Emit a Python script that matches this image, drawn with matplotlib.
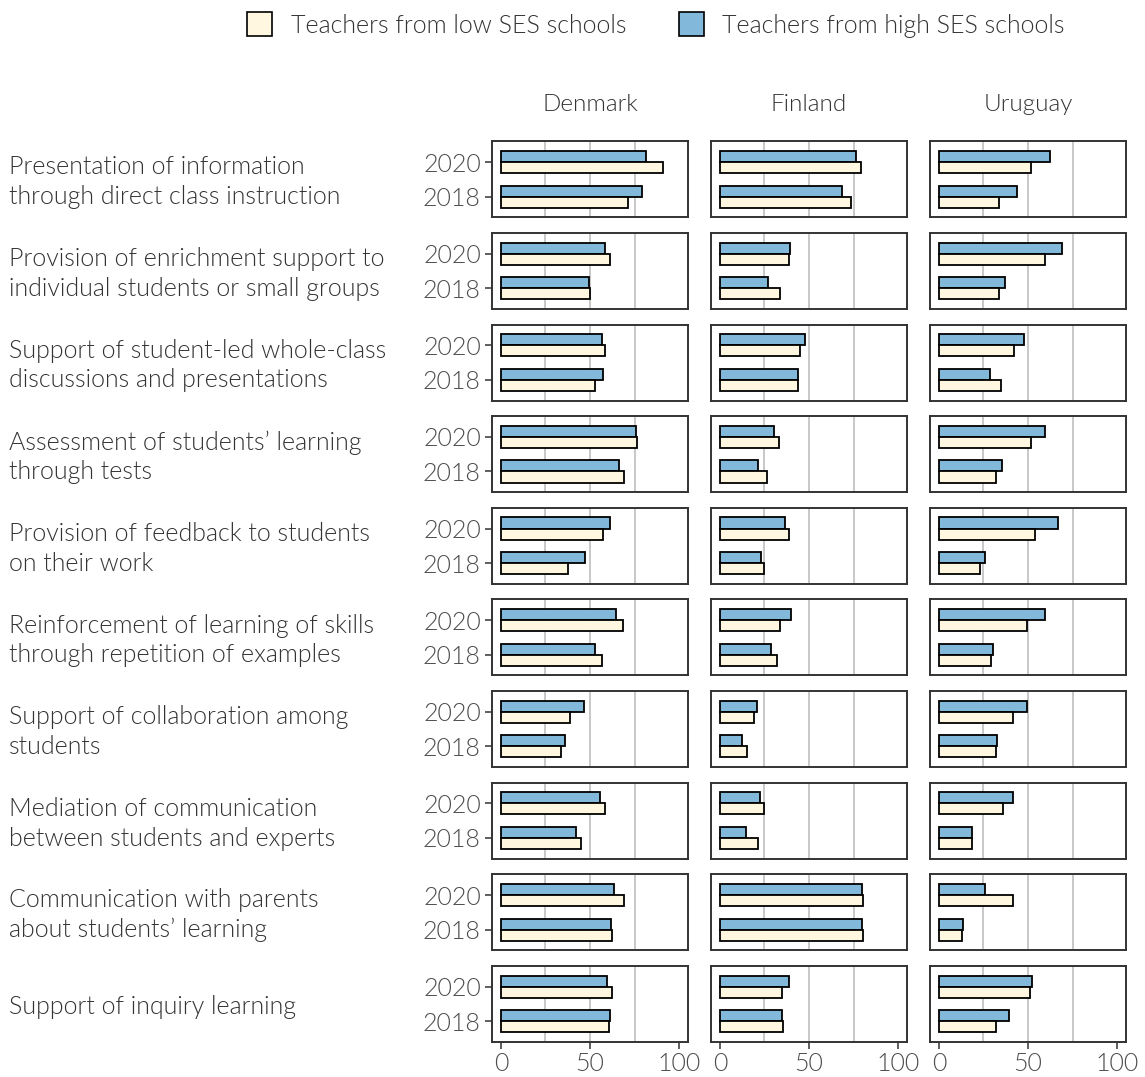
import matplotlib
matplotlib.use("Agg")
import matplotlib.pyplot as plt
from matplotlib.patches import Patch
import numpy as np

plt.rcParams['font.family'] = ['Lato', 'DejaVu Sans']
plt.rcParams['font.weight'] = 300
plt.rcParams['axes.titleweight'] = 300

# data (percent of teachers)
activities = [
    "Presentation of information\nthrough direct class instruction",
    "Provision of enrichment support to\nindividual students or small groups",
    "Support of student-led whole-class\ndiscussions and presentations",
    "Assessment of students\u2019 learning\nthrough tests",
    "Provision of feedback to students\non their work",
    "Reinforcement of learning of skills\nthrough repetition of examples",
    "Support of collaboration among\nstudents",
    "Mediation of communication\nbetween students and experts",
    "Communication with parents\nabout students\u2019 learning",
    "Support of inquiry learning",
]
countries = ["Denmark", "Finland", "Uruguay"]
years = ["2018", "2020"]

# [activity][2018, 2020]
dnk_high = [[79.4, 81.5], [49.6, 58.6], [57.1, 56.6], [66.0, 75.9], [47.4, 61.4],
            [52.6, 64.6], [36.1, 46.6], [42.3, 55.8], [61.6, 63.3], [61.4, 59.8]]
dnk_low = [[71.6, 91.0], [50.2, 61.4], [52.8, 58.4], [69.1, 76.1], [37.8, 57.3],
           [56.8, 68.4], [33.7, 38.7], [44.7, 58.6], [62.6, 69.3], [60.7, 62.4]]
fin_high = [[68.4, 76.1], [27.1, 39.1], [44.0, 47.9], [21.4, 30.5], [23.1, 36.8],
            [28.8, 40.0], [12.6, 20.9], [14.8, 22.4], [79.7, 79.9], [35.0, 38.7]]
fin_low = [[73.3, 79.1], [33.8, 38.9], [43.8, 45.1], [26.3, 33.1], [24.8, 38.7],
           [32.1, 34.0], [15.4, 19.4], [21.4, 24.8], [80.5, 80.1], [35.5, 35.0]]
ury_high = [[43.6, 62.6], [37.0, 69.0], [28.9, 47.9], [35.3, 59.4], [25.8, 66.9],
            [30.1, 59.4], [32.5, 49.2], [18.6, 41.4], [13.7, 25.8], [39.3, 52.4]]
ury_low = [[34.0, 51.5], [33.5, 59.8], [35.0, 41.9], [31.8, 51.7], [22.9, 54.1],
           [29.5, 49.6], [32.1, 41.5], [18.6, 36.1], [13.0, 41.7], [31.8, 51.3]]

high = {"Denmark": dnk_high, "Finland": fin_high, "Uruguay": ury_high}
low = {"Denmark": dnk_low, "Finland": fin_low, "Uruguay": ury_low}

col_low = "#FFF7E0"
col_high = "#82B8D9"
txt_col = "#333333"
tick_col = "#4d4d4d"
fs = 18

W, H = 1145, 1077
fig = plt.figure(figsize=(W / 100, H / 100), dpi=100)

col_left = [492, 711, 930]
panel_w = 196
row_top0 = 141.3
row_step = 91.63
panel_h = 76
bh = 0.32
ypos = np.arange(len(years))

for i, act in enumerate(activities):
    top = row_top0 + i * row_step
    for j, c in enumerate(countries):
        ax = fig.add_axes([col_left[j] / W, 1 - (top + panel_h) / H, panel_w / W, panel_h / H])
        hv = np.array(high[c][i])
        lv = np.array(low[c][i])
        ax.barh(ypos + bh / 2, hv, height=bh, color=col_high, edgecolor="black", linewidth=1.3, zorder=3)
        ax.barh(ypos - bh / 2, lv, height=bh, color=col_low, edgecolor="black", linewidth=1.3, zorder=3)
        ax.set_xlim(-5, 105)
        ax.set_ylim(-0.6, 1.6)
        for g in [25, 50, 75]:
            ax.axvline(g, color="#c8c8c8", linewidth=1.4, zorder=1)
        for s in ax.spines.values():
            s.set_color("#333333")
            s.set_linewidth(1.4)
        ax.set_yticks(ypos)
        if j == 0:
            ax.set_yticklabels(years, fontsize=fs, color=tick_col)
            ax.tick_params(axis="y", length=5, width=1.1, color="#333333", pad=3)
        else:
            ax.set_yticklabels([])
            ax.tick_params(axis="y", length=0)
        ax.set_xticks([0, 50, 100])
        if i == len(activities) - 1:
            ax.set_xticklabels(["0", "50", "100"], fontsize=fs, color=tick_col)
            ax.tick_params(axis="x", length=5, width=1.1, color="#333333", pad=2)
        else:
            ax.set_xticklabels([])
            ax.tick_params(axis="x", length=0)
        if i == 0:
            ax.set_title(c, fontsize=fs - 0.5, color=txt_col, pad=22)
    fig.text(9 / W, 1 - (top + panel_h / 2 + 3) / H, act, fontsize=fs, color=txt_col,
             ha="left", va="center", linespacing=1.3)

handles = [Patch(facecolor=col_low, edgecolor="black", linewidth=1.2, label="Teachers from low SES schools"),
           Patch(facecolor=col_high, edgecolor="black", linewidth=1.2, label="Teachers from high SES schools")]
fig.legend(handles=handles, loc="center", bbox_to_anchor=(656 / W, 1 - 25 / H), ncol=2, frameon=False,
           fontsize=fs, handlelength=1.0, handleheight=1.05, handletextpad=0.75, columnspacing=2.1,
           labelcolor=txt_col)

fig.savefig("out.png", dpi=100)
